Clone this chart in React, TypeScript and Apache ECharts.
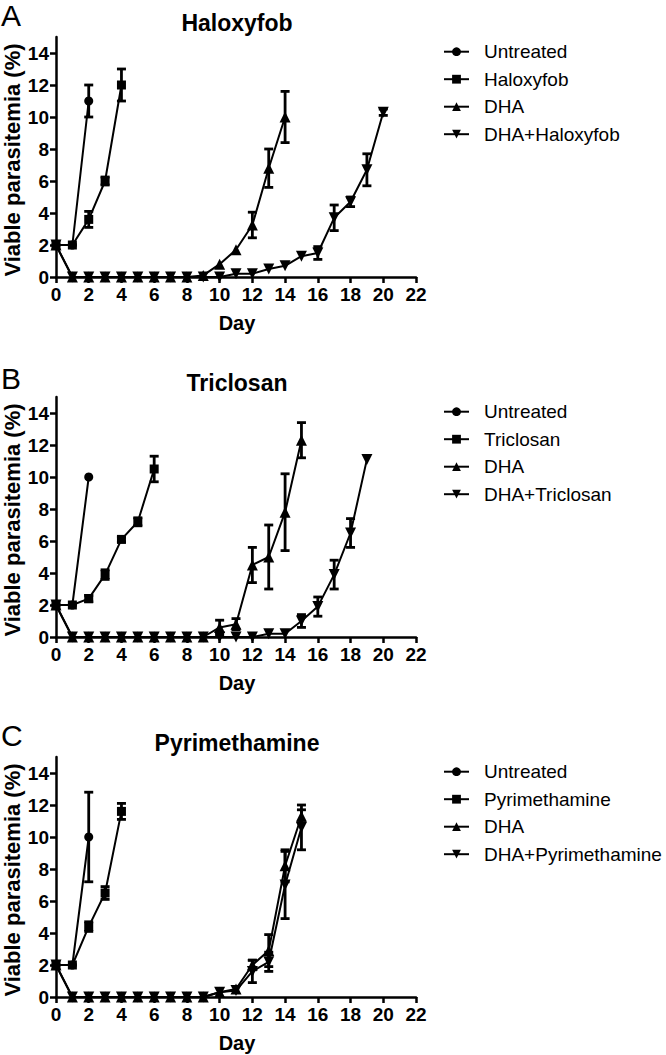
import React, { useEffect, useRef } from "react";
import * as echarts from "echarts";

// ---- Data (values indexed by day, starting at day 0) ----
const xTicks = [0, 2, 4, 6, 8, 10, 12, 14, 16, 18, 20, 22];
const yTicks = [0, 2, 4, 6, 8, 10, 12, 14];

const panelLetters = ["A", "B", "C"];
const panelTitles = ["Haloxyfob", "Triclosan", "Pyrimethamine"];
const groupNames = ["Untreated", "DRUG", "DHA", "DHA+DRUG"];

// Panel A: Haloxyfob
const haloUntreated = [2, 2, 11];
const haloUntreatedErr = [0, 0, 1];
const haloDrug = [2, 2, 3.6, 6, 12];
const haloDrugErr = [0, 0, 0.5, 0.25, 1];
const haloDHA = [2, 0, 0, 0, 0, 0, 0, 0, 0, 0.1, 0.8, 1.7, 3.25, 6.8, 10];
const haloDHAErr = [0, 0, 0, 0, 0, 0, 0, 0, 0, 0, 0, 0, 0.8, 1.2, 1.6];
const haloCombo = [2, 0, 0, 0, 0, 0, 0, 0, 0, 0, 0, 0.2, 0.2, 0.5, 0.7, 1.3, 1.5, 3.7, 4.7, 6.7, 10.3];
const haloComboErr = [0, 0, 0, 0, 0, 0, 0, 0, 0, 0, 0, 0, 0, 0, 0, 0, 0.4, 0.8, 0.3, 1.0, 0.2];

// Panel B: Triclosan
const triUntreated = [2, 2, 10];
const triUntreatedErr = [0, 0, 0];
const triDrug = [2, 2, 2.4, 3.9, 6.1, 7.2, 10.5];
const triDrugErr = [0, 0, 0.2, 0.3, 0.15, 0.25, 0.8];
const triDHA = [2, 0, 0, 0, 0, 0, 0, 0, 0, 0, 0.6, 0.8, 4.5, 5, 7.8, 12.3];
const triDHAErr = [0, 0, 0, 0, 0, 0, 0, 0, 0, 0, 0.45, 0.35, 1.1, 2, 2.4, 1.1];
const triCombo = [2, 0, 0, 0, 0, 0, 0, 0, 0, 0, 0, 0, 0, 0.2, 0.2, 1.0, 1.9, 3.9, 6.5, 11.1];
const triComboErr = [0, 0, 0, 0, 0, 0, 0, 0, 0, 0, 0, 0, 0, 0, 0, 0.4, 0.6, 0.9, 0.9, 0];

// Panel C: Pyrimethamine
const pyrUntreated = [2, 2, 10];
const pyrUntreatedErr = [0, 0, 2.8];
const pyrDrug = [2, 2, 4.4, 6.5, 11.6];
const pyrDrugErr = [0, 0, 0.3, 0.4, 0.5];
const pyrDHA = [2, 0, 0, 0, 0, 0, 0, 0, 0, 0, 0.3, 0.5, 2.0, 2.9, 8.2, 11.3];
const pyrDHAErr = [0, 0, 0, 0, 0, 0, 0, 0, 0, 0, 0, 0, 0.3, 1.0, 1.0, 0.4];
const pyrCombo = [2, 0, 0, 0, 0, 0, 0, 0, 0, 0, 0.3, 0.4, 1.6, 2.2, 7.0, 10.6];
const pyrComboErr = [0, 0, 0, 0, 0, 0, 0, 0, 0, 0, 0, 0, 0.7, 0.6, 2.1, 1.4];

const panelValues = [
  [haloUntreated, haloDrug, haloDHA, haloCombo],
  [triUntreated, triDrug, triDHA, triCombo],
  [pyrUntreated, pyrDrug, pyrDHA, pyrCombo],
];
const panelErrors = [
  [haloUntreatedErr, haloDrugErr, haloDHAErr, haloComboErr],
  [triUntreatedErr, triDrugErr, triDHAErr, triComboErr],
  [pyrUntreatedErr, pyrDrugErr, pyrDHAErr, pyrComboErr],
];

// ---- Styles / layout ----
const FONT = "'Liberation Sans', Arial, Helvetica, sans-serif";
const symbols = ["circle", "rect", "triangle", "triangle"];
const symbolRotates = [0, 0, 0, 180];
const symbolSizes = [9, 9, 11, 11];
const gridTops = [37, 397, 757];
const GRID_LEFT = 56;
const GRID_W = 360;
const GRID_H = 240;

function buildOption() {
  const grid: any[] = [];
  const xAxis: any[] = [];
  const yAxis: any[] = [];
  const series: any[] = [];
  const legend: any[] = [];
  const graphic: any[] = [];

  panelTitles.forEach((title, p) => {
    const top = gridTops[p];
    grid.push({ left: GRID_LEFT, top, width: GRID_W, height: GRID_H });
    xAxis.push({
      type: "value",
      gridIndex: p,
      min: 0,
      max: 22,
      interval: 2,
      axisLine: { lineStyle: { color: "#000", width: 2.5 } },
      axisTick: { length: 6, lineStyle: { color: "#000", width: 2.5 } },
      axisLabel: { color: "#000", fontSize: 19, fontWeight: "bold", fontFamily: FONT, margin: 8, customValues: xTicks },
      splitLine: { show: false },
    });
    yAxis.push({
      type: "value",
      gridIndex: p,
      min: 0,
      max: 15,
      interval: 1,
      axisLine: { show: true, lineStyle: { color: "#000", width: 2.5 } },
      axisTick: { show: true, length: 6, lineStyle: { color: "#000", width: 2.5 }, customValues: yTicks },
      axisLabel: { color: "#000", fontSize: 19, fontWeight: "bold", fontFamily: FONT, margin: 7, customValues: yTicks },
      splitLine: { show: false },
    });

    const names = groupNames.map((n) => n.replace("DRUG", title));
    panelValues[p].forEach((vals, s) => {
      const data = vals.map((v, d) => [d, v]);
      series.push({
        type: "line",
        name: names[s],
        xAxisIndex: p,
        yAxisIndex: p,
        data,
        symbol: symbols[s],
        symbolSize: symbolSizes[s],
        symbolRotate: symbolRotates[s],
        showAllSymbol: true,
        lineStyle: { color: "#000", width: 2 },
        itemStyle: { color: "#000" },
        z: 3,
      });
      const errs = panelErrors[p][s];
      const errData = vals
        .map((v, d) => [d, v, errs[d]])
        .filter((r) => r[2] > 0);
      series.push({
        type: "custom",
        name: "err-" + names[s],
        xAxisIndex: p,
        yAxisIndex: p,
        data: errData,
        z: 4,
        renderItem: (params: any, api: any) => {
          const x = api.value(0);
          const y = api.value(1);
          const e = api.value(2);
          const t = api.coord([x, y + e]);
          const b = api.coord([x, y - e]);
          const hw = 4.5;
          const st = { stroke: "#000", lineWidth: 2.8 };
          return {
            type: "group",
            children: [
              { type: "line", shape: { x1: t[0], y1: t[1], x2: b[0], y2: b[1] }, style: st },
              { type: "line", shape: { x1: t[0] - hw, y1: t[1], x2: t[0] + hw, y2: t[1] }, style: st },
              { type: "line", shape: { x1: b[0] - hw, y1: b[1], x2: b[0] + hw, y2: b[1] }, style: st },
            ],
          };
        },
      });
    });

    legend.push({
      orient: "vertical",
      left: 443,
      top: top + 14.7 - 9.5,
      padding: 0,
      itemWidth: 25,
      itemHeight: 11,
      itemGap: 8.5,
      selectedMode: false,
      data: names,
      textStyle: { color: "#000", fontSize: 19, fontFamily: FONT, padding: [0, 0, 0, 10], lineHeight: 19 },
    });

    graphic.push(
      {
        type: "text",
        left: 1,
        top: top - 37 + (p === 1 ? 3 : 0),
        style: { text: panelLetters[p], fontSize: 30, fontFamily: FONT, fill: "#000" },
      },
      {
        type: "text",
        x: 237,
        y: top - 14,
        style: {
          text: title,
          fontSize: 23,
          fontWeight: "bold",
          fontFamily: FONT,
          fill: "#000",
          align: "center",
          verticalAlign: "middle",
          textAlign: "center",
          textVerticalAlign: "middle",
        },
      },
      {
        type: "text",
        x: 12,
        y: top + 123,
        rotation: Math.PI / 2,
        style: {
          text: "Viable parasitemia (%)",
          fontSize: 22,
          fontWeight: "bold",
          fontFamily: FONT,
          fill: "#000",
          align: "center",
          verticalAlign: "middle",
          textAlign: "center",
          textVerticalAlign: "middle",
        },
      },
      {
        type: "text",
        x: 237,
        y: top + GRID_H + 46,
        style: {
          text: "Day",
          fontSize: 20,
          fontWeight: "bold",
          fontFamily: FONT,
          fill: "#000",
          align: "center",
          verticalAlign: "middle",
          textAlign: "center",
          textVerticalAlign: "middle",
        },
      }
    );
  });

  return {
    animation: false,
    backgroundColor: "#fff",
    grid,
    xAxis,
    yAxis,
    legend,
    series,
    graphic,
  };
}

export default function App() {
  const ref = useRef<HTMLDivElement>(null);
  useEffect(() => {
    if (!ref.current) return;
    const chart = echarts.init(ref.current, undefined, { renderer: "svg" });
    chart.setOption(buildOption() as any);
    return () => chart.dispose();
  }, []);
  return (
    <div
      ref={ref}
      style={{ position: "fixed", left: 0, top: 0, width: 666, height: 1055, background: "#fff" }}
    />
  );
}
